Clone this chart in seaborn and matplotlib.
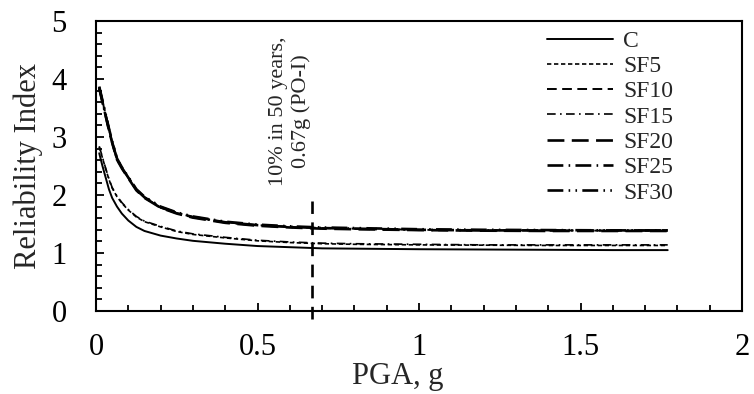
import numpy as np
import pandas as pd
import matplotlib
matplotlib.use("Agg")
import matplotlib.pyplot as plt
import seaborn as sns

# ---- data ----
pga = [0.01, 0.02, 0.03, 0.04, 0.05, 0.065, 0.08, 0.1, 0.125, 0.15, 0.2, 0.25,
       0.3, 0.4, 0.5, 0.6, 0.7, 0.8, 1.0, 1.2, 1.4, 1.6, 1.77]

beta_C    = [2.72, 2.50, 2.30, 2.10, 1.95, 1.80, 1.68, 1.56, 1.45, 1.38, 1.30, 1.25,
             1.21, 1.16, 1.12, 1.10, 1.08, 1.075, 1.065, 1.06, 1.055, 1.05, 1.05]
beta_SF5  = [2.83, 2.64, 2.45, 2.27, 2.12, 1.97, 1.86, 1.74, 1.62, 1.54, 1.45, 1.37,
             1.32, 1.26, 1.21, 1.18, 1.16, 1.15, 1.14, 1.135, 1.13, 1.13, 1.13]
beta_SF10 = [3.86, 3.62, 3.38, 3.14, 2.92, 2.62, 2.47, 2.30, 2.09, 1.96, 1.78, 1.69,
             1.62, 1.53, 1.48, 1.45, 1.43, 1.42, 1.40, 1.39, 1.39, 1.385, 1.385]
beta_SF15 = [2.84, 2.65, 2.46, 2.28, 2.13, 1.98, 1.87, 1.75, 1.63, 1.55, 1.46, 1.38,
             1.33, 1.27, 1.22, 1.19, 1.17, 1.16, 1.15, 1.14, 1.14, 1.14, 1.14]
beta_SF20 = [3.84, 3.60, 3.36, 3.12, 2.90, 2.61, 2.46, 2.29, 2.08, 1.95, 1.78, 1.68,
             1.61, 1.52, 1.47, 1.44, 1.42, 1.41, 1.395, 1.385, 1.38, 1.38, 1.38]
beta_SF25 = [3.85, 3.61, 3.37, 3.13, 2.91, 2.62, 2.47, 2.30, 2.09, 1.96, 1.79, 1.69,
             1.62, 1.53, 1.48, 1.45, 1.43, 1.42, 1.40, 1.39, 1.39, 1.39, 1.39]
beta_SF30 = [3.87, 3.63, 3.39, 3.15, 2.93, 2.63, 2.48, 2.31, 2.10, 1.97, 1.80, 1.70,
             1.63, 1.54, 1.49, 1.46, 1.44, 1.43, 1.41, 1.40, 1.395, 1.39, 1.39]

series_names = ["C", "SF5", "SF10", "SF15", "SF20", "SF25", "SF30"]
series_values = [beta_C, beta_SF5, beta_SF10, beta_SF15, beta_SF20, beta_SF25, beta_SF30]

design_pga = 0.67
annotation = "10% in 50 years,\n0.67g (PO-I)"

# ---- styles ----
line_styles = {
    "C":    dict(lw=1.4, ls="-"),
    "SF5":  dict(lw=1.2, ls=(0, (2.6, 1.6))),
    "SF10": dict(lw=1.4, ls=(0, (5.0, 2.8))),
    "SF15": dict(lw=1.2, ls=(0, (5.2, 2.6, 1.0, 2.6))),
    "SF20": dict(lw=1.9, ls=(0, (6.4, 2.8))),
    "SF25": dict(lw=1.9, ls=(0, (6.0, 2.0, 0.6, 2.0))),
    "SF30": dict(lw=1.9, ls=(0, (6.0, 2.0, 0.6, 2.0, 0.6, 2.0))),
}

sns.set_style("ticks")
plt.rcParams["font.family"] = ["Liberation Serif", "DejaVu Serif"]

fig = plt.figure(figsize=(7.54, 3.94), dpi=100)
ax = fig.add_axes([96 / 754, 1 - 311 / 394, (742 - 96) / 754, (311 - 21) / 394])

for name, vals in zip(series_names, series_values):
    st = line_styles[name]
    sns.lineplot(x=pga, y=vals, ax=ax, color="black", linewidth=st["lw"],
                 linestyle=st["ls"], label=name, errorbar=None, sort=False)

# design level line
ax.plot([design_pga, design_pga], [-0.14, 1.9], color="black", lw=1.9,
        linestyle=(0, (4.8, 3.2)), clip_on=False)
ax.text(0.60, 3.44, annotation, rotation=90, ha="center", va="center",
        multialignment="center", fontsize=16)

ax.set_xlim(0, 2)
ax.set_ylim(0, 5)
ax.set_xticks([0, 0.5, 1, 1.5, 2])
ax.set_xticklabels(["0", "0.5", "1", "1.5", "2"])
ax.set_yticks([0, 1, 2, 3, 4, 5])
ax.set_xticks(np.arange(0, 2.01, 0.1), minor=True)
ax.set_yticks(np.arange(0, 5.01, 0.2), minor=True)

ax.tick_params(axis="both", which="major", direction="in", length=6, width=1.3,
               labelsize=22, color="black", labelcolor="black")
ax.tick_params(axis="both", which="minor", direction="in", length=4.5, width=1.3,
               color="black")
ax.tick_params(axis="x", which="major", pad=16)
ax.tick_params(axis="y", which="major", pad=21)

for sp in ax.spines.values():
    sp.set_visible(True)
    sp.set_linewidth(1.5)
    sp.set_color("black")

ax.set_xlabel("PGA, g", fontsize=22)
ax.set_ylabel("Reliability Index", fontsize=22)
ax.xaxis.set_label_coords(0.4675, -0.175)
ax.yaxis.set_label_coords(-0.082, 0.5)

handles, labels = ax.get_legend_handles_labels()
ax.legend(handles, labels, loc="upper left", bbox_to_anchor=(0.698, 0.968),
          frameon=False, fontsize=17, handlelength=2.8, handletextpad=0.42,
          labelspacing=0.16, borderpad=0, borderaxespad=0)

fig.savefig("out.png", dpi=100)
